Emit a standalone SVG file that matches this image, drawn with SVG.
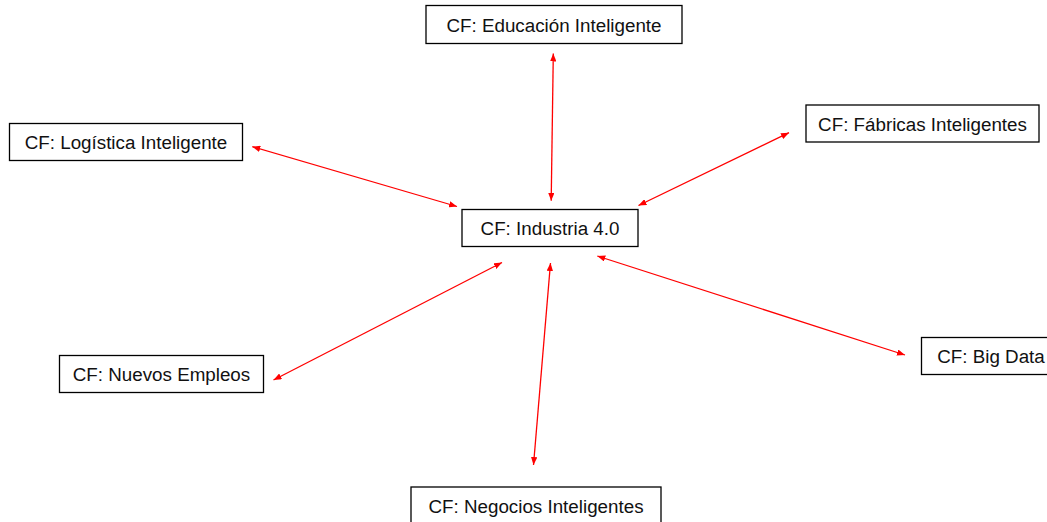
<svg xmlns="http://www.w3.org/2000/svg" width="1047" height="522" viewBox="0 0 1047 522">
<style>
.box{fill:#fff;stroke:#000;stroke-width:1.3}
.lbl{font-family:"Liberation Sans",Arial,sans-serif;font-size:18.8px;fill:#111;text-anchor:middle;dominant-baseline:central}
.con{stroke:#f00;stroke-width:1.3;fill:none;marker-start:url(#ah);marker-end:url(#ah)}
</style>
<defs>
<marker id="ah" viewBox="0 0 10 8" refX="10" refY="4" markerWidth="8" markerHeight="6.4" markerUnits="userSpaceOnUse" orient="auto-start-reverse">
<path d="M0,0 L10,4 L0,8 Z" fill="#f00"/>
</marker>
</defs>
<rect width="1047" height="522" fill="#fff"/>
<g id="connectors">
<line class="con" x1="553.3" y1="53.5" x2="551.2" y2="200.7"/>
<line class="con" x1="252.3" y1="146.7" x2="457" y2="206.5"/>
<line class="con" x1="789" y1="132.7" x2="638.5" y2="205.5"/>
<line class="con" x1="273.5" y1="380" x2="502" y2="262.5"/>
<line class="con" x1="550.5" y1="263" x2="533.5" y2="465"/>
<line class="con" x1="597.3" y1="256" x2="905" y2="355"/>
</g>
<g id="n-educacion">
<rect class="box" x="426" y="5.5" width="256" height="38"/>
<text class="lbl" x="554" y="25">CF: Educación Inteligente</text>
</g>
<g id="n-logistica">
<rect class="box" x="9.5" y="123.5" width="233" height="37"/>
<text class="lbl" x="126" y="142.5">CF: Logística Inteligente</text>
</g>
<g id="n-fabricas">
<rect class="box" x="806" y="105" width="233" height="37"/>
<text class="lbl" x="922.5" y="124">CF: Fábricas Inteligentes</text>
</g>
<g id="n-industria">
<rect class="box" x="462" y="209.5" width="176" height="37"/>
<text class="lbl" x="550" y="228.5">CF: Industria 4.0</text>
</g>
<g id="n-nuevos">
<rect class="box" x="59.5" y="355.5" width="204" height="37"/>
<text class="lbl" x="161.5" y="374.5">CF: Nuevos Empleos</text>
</g>
<g id="n-bigdata">
<rect class="box" x="921.5" y="337.5" width="140" height="37"/>
<text class="lbl" x="991" y="356.5">CF: Big Data</text>
</g>
<g id="n-negocios">
<rect class="box" x="411" y="487" width="250" height="40"/>
<text class="lbl" x="536" y="506.5">CF: Negocios Inteligentes</text>
</g>
</svg>
